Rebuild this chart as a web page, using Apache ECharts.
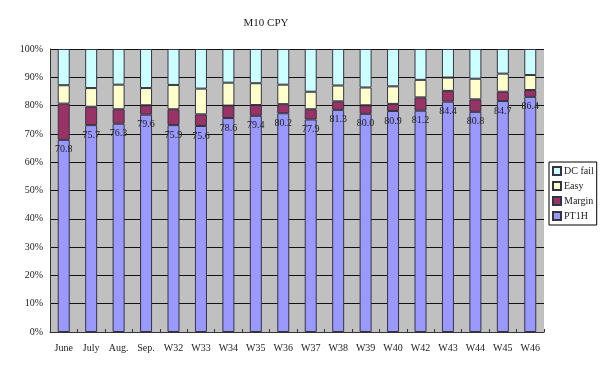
<!DOCTYPE html>
<html>
<head>
<meta charset="utf-8">
<script src="https://cdn.jsdelivr.net/npm/echarts@6/dist/echarts.min.js"></script>
<style>
html,body{margin:0;padding:0;background:#fff;}
#chart{width:600px;height:365px;}
</style>
</head>
<body>
<div id="chart"></div>
<script>
const categories = ['June','July','Aug.','Sep.','W32','W33','W34','W35','W36','W37','W38','W39','W40','W42','W43','W44','W45','W46'];
const pt1h   = [67.9,73.1,73.6,76.8,73.1,72.8,75.6,76.4,77.3,75.1,78.5,77.1,78.1,78.2,81.4,77.8,81.6,83.1];
const margin = [12.8,6.5,5.1,3.3,5.6,4.1,4.4,3.8,3.2,3.6,3.0,3.0,2.5,4.7,3.8,4.4,3.3,2.4];
const easy   = [6.5,6.6,8.7,6.1,8.6,9.1,8.1,7.7,6.9,6.2,5.6,6.3,6.2,6.2,4.7,7.3,6.4,5.3];
const dcFail = [12.8,13.8,12.6,13.8,12.7,14.0,11.9,12.1,12.6,15.1,12.9,13.6,13.2,10.9,10.1,10.5,8.7,9.2];
const pt1hLabels = ['70.8','75.7','76.3','79.6','75.9','75.6','78.6','79.4','80.2','77.9','81.3','80.0','80.9','81.2','84.4','80.8','84.7','86.4'];
const yTicks = [0,10,20,30,40,50,60,70,80,90,100];

const font = '"Liberation Serif","DejaVu Serif",serif';
const chart = echarts.init(document.getElementById('chart'));
const barBase = {type:'bar', stack:'all', barWidth:12};
chart.setOption({
  animation:false,
  backgroundColor:'#fff',
  title:{text:'M10 CPY', left:261, top:13, textAlign:'center',
    textStyle:{fontSize:11, fontWeight:'normal', color:'#222', fontFamily:font}},
  grid:{left:50, right:56, top:49, bottom:33, show:true, backgroundColor:'#C0C0C0', borderWidth:0},
  legend:{orient:'vertical', left:549, top:162, itemWidth:8, itemHeight:8, itemGap:5,
    padding:[4,3,4,3], borderColor:'#000', borderWidth:1, icon:'rect',
    data:['DC fail','Easy','Margin','PT1H'],
    textStyle:{fontSize:10, color:'#222', fontFamily:font, padding:[0,0,0,-2]}},
  xAxis:{type:'category', data:categories,
    axisLine:{lineStyle:{color:'#333', width:1}},
    axisTick:{show:true, inside:true, length:3, lineStyle:{color:'#333'}},
    axisLabel:{fontSize:10, color:'#222', fontFamily:font, margin:11, interval:0}},
  yAxis:{type:'value', min:0, max:100, interval:10,
    axisLine:{show:true, lineStyle:{color:'#333', width:1}},
    axisTick:{show:false},
    axisLabel:{formatter:'{value}%', fontSize:10, color:'#222', fontFamily:font, margin:7},
    splitLine:{lineStyle:{color:'#111', width:1}}},
  series:[
    Object.assign({}, barBase, {name:'PT1H', data:pt1h, itemStyle:{color:'#9999FF', borderColor:'#333344', borderWidth:1},
      label:{show:true, position:'insideTop', distance:5, fontSize:10, color:'#222', fontFamily:font,
        formatter:p=>pt1hLabels[p.dataIndex]}}),
    Object.assign({}, barBase, {name:'Margin', data:margin, itemStyle:{color:'#993366', borderColor:'#333344', borderWidth:1}}),
    Object.assign({}, barBase, {name:'Easy', data:easy, itemStyle:{color:'#FFFFCC', borderColor:'#333344', borderWidth:1}}),
    Object.assign({}, barBase, {name:'DC fail', data:dcFail, itemStyle:{color:'#CCFFFF', borderColor:'#333344', borderWidth:1}})
  ]
});
</script>
</body>
</html>
